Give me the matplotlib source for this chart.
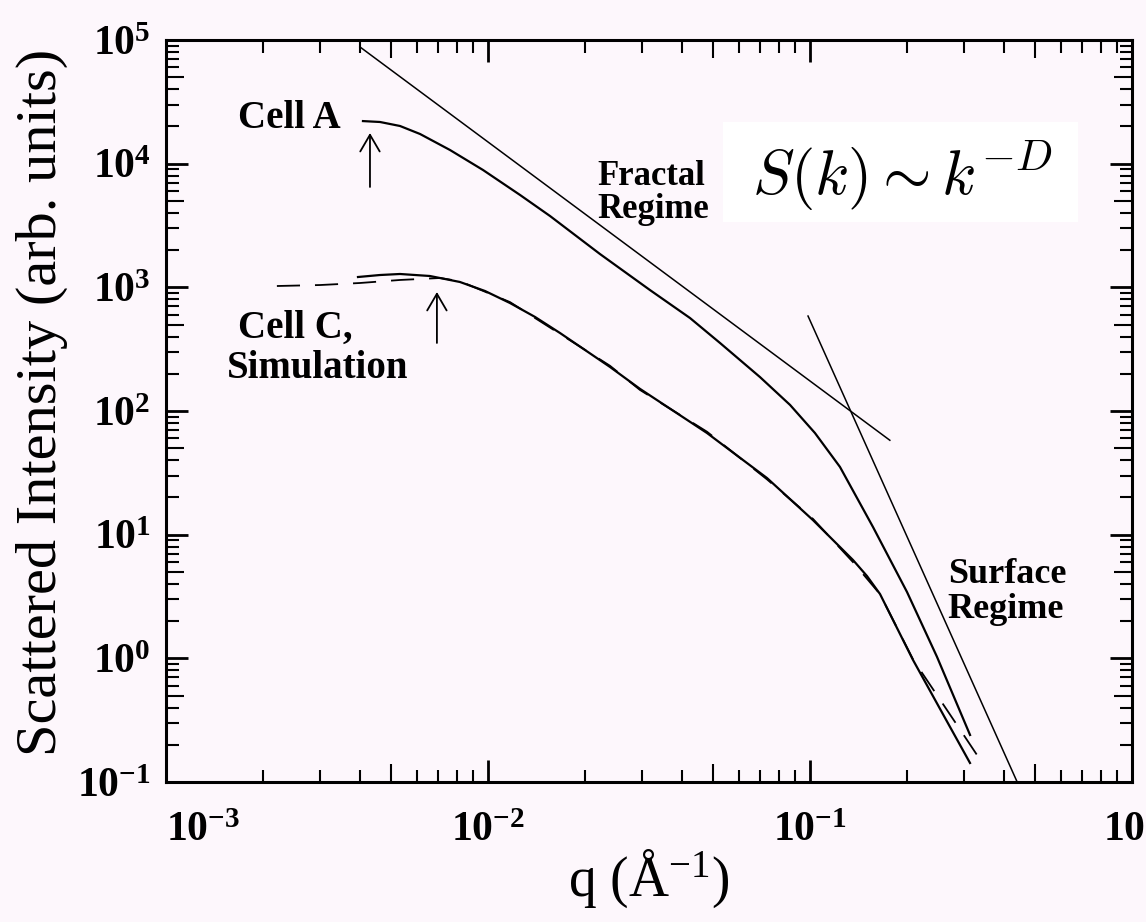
import numpy as np
import matplotlib

matplotlib.use("Agg")
import matplotlib.pyplot as plt
from matplotlib.patches import Rectangle
from matplotlib.ticker import LogLocator, FuncFormatter, NullFormatter, NullLocator

plt.rcParams["font.family"] = ["Liberation Serif", "DejaVu Serif"]
plt.rcParams["mathtext.fontset"] = "custom"
plt.rcParams["mathtext.rm"] = "Liberation Serif"
plt.rcParams["mathtext.it"] = "Liberation Serif:italic"
plt.rcParams["mathtext.bf"] = "Liberation Serif:bold"

BG = "#fdf7fc"

# Cell A measured intensity
q_cell_a = [0.00409, 0.004619, 0.00533, 0.00615, 0.00762, 0.00965, 0.01258, 0.01558,
            0.02227, 0.03184, 0.04239, 0.05254, 0.06995, 0.0867, 0.1036, 0.1239,
            0.157, 0.2001, 0.2479, 0.3141]
i_cell_a = [22100, 21730, 20170, 17380, 12900, 8889, 5580, 3775,
            1860, 951, 565, 355, 188, 112, 66.4, 35.3,
            11.5, 3.44, 1.03, 0.24]

# Cell C measured intensity
q_cell_c = [0.003947, 0.004619, 0.00533, 0.0066, 0.00818, 0.00979, 0.0117, 0.014,
            0.01674, 0.02393, 0.02965, 0.04787, 0.07354, 0.1022, 0.136, 0.1503,
            0.165, 0.2089, 0.2626, 0.314]
i_cell_c = [1212, 1258, 1282, 1235, 1105, 934, 747, 576,
            427, 227, 151, 66.4, 28.7, 13.1, 6.24, 4.63,
            3.31, 0.97, 0.33, 0.1425]

# simulation (dashed)
q_sim = [0.00221, 0.00301, 0.0040, 0.00533, 0.0071, 0.00818, 0.0117, 0.01674, 0.02393,
         0.02965, 0.04787, 0.07354, 0.1022, 0.136, 0.165, 0.2089, 0.282, 0.3445]
i_sim = [1025, 1044, 1084, 1147, 1190, 1120, 760, 420, 232,
         148, 68, 28, 13.4, 6.0, 3.3, 0.98, 0.306, 0.14]

# power-law guide lines
q_fractal = [0.0040, 0.177]
i_fractal = [88000, 58]
q_surface = [0.0986, 0.44]
i_surface = [586, 0.1]

# arrows marking the crossover (q, head, tail)
arrow_cell_a = (0.0043, 17700, 6480)
arrow_cell_c = (0.00694, 917, 355)

decades = list(range(-1, 5))
mid_ticks_y = [5 * 10.0 ** k for k in decades]
mid_ticks_x = [5e-3, 5e-2, 5e-1]

fig = plt.figure(figsize=(11.46, 9.22), dpi=100, facecolor=BG)
ax = fig.add_axes([0.14485, 0.15184, 0.84293, 0.80477])
ax.set_facecolor(BG)
ax.set_xscale("log")
ax.set_yscale("log")
ax.set_xlim(1e-3, 1)
ax.set_ylim(1e-1, 1e5)

ax.plot(q_fractal, i_fractal, color="black", lw=1.1)
ax.plot(q_surface, i_surface, color="black", lw=1.1)
ax.plot(q_cell_a, i_cell_a, color="black", lw=1.6)
ax.plot(q_cell_c, i_cell_c, color="black", lw=1.6)
ax.plot(q_sim, i_sim, color="black", lw=1.3, linestyle=(0, (12.8, 8.3)))

for q, head, tail in (arrow_cell_a, arrow_cell_c):
    ax.annotate("", xy=(q, head), xytext=(q, tail),
                arrowprops=dict(arrowstyle="->,head_length=0.6,head_width=0.35",
                                lw=1.3, color="black", shrinkA=0, shrinkB=0,
                                mutation_scale=20))

lab = dict(fontweight="bold", ha="left", va="baseline")
ax.text(0.001674, 19430, "Cell A", fontsize=28, **lab)
ax.text(0.001674, 389, "Cell C,", fontsize=28, **lab)
ax.text(0.001546, 185, "Simulation", fontsize=28, **lab)
ax.text(0.0218, 6720, "Fractal", fontsize=25, **lab)
ax.text(0.0218, 3637, "Regime", fontsize=25, **lab)
ax.text(0.2680, 4.07, "Surface", fontsize=26, **lab)
ax.text(0.2680, 2.10, "Regime", fontsize=26, **lab)

ax.add_patch(Rectangle((0.5766, 0.7547), 0.3675, 0.1348, transform=ax.transAxes,
                       facecolor="white", edgecolor="none", zorder=1))
ax.text(0.6066, 0.791, r"$S(k)\sim k^{-D}$", transform=ax.transAxes, fontsize=45,
        math_fontfamily="cm", ha="left", va="baseline", zorder=2)

# 5x10^n ticks are a bit longer than the other minor ticks
ax5x = ax.twiny()
ax5y = ax.twinx()
for tw in (ax5x, ax5y):
    tw.set_xscale("log")
    tw.set_yscale("log")
    tw.set_xlim(ax.get_xlim())
    tw.set_ylim(ax.get_ylim())
    for s in tw.spines.values():
        s.set_visible(False)
ax5x.set_xticks(mid_ticks_x)
ax5x.xaxis.set_major_formatter(NullFormatter())
ax5x.xaxis.set_minor_locator(NullLocator())
ax5x.tick_params(axis="x", which="major", top=True, bottom=True, direction="in",
                 length=13, width=1.5, labeltop=False, labelbottom=False)
ax5y.set_yticks(mid_ticks_y)
ax5y.yaxis.set_major_formatter(NullFormatter())
ax5y.yaxis.set_minor_locator(NullLocator())
ax5y.tick_params(axis="y", which="major", left=True, right=True, direction="in",
                 length=13, width=1.5, labelleft=False, labelright=False)

fmt = FuncFormatter(lambda v, pos: r"$\mathbf{10^{%d}}$" % round(np.log10(v)))
for axis in (ax.xaxis, ax.yaxis):
    axis.set_major_locator(LogLocator(base=10, numticks=10))
    axis.set_minor_locator(LogLocator(base=10, subs=[2, 3, 4, 6, 7, 8, 9], numticks=20))
    axis.set_minor_formatter(NullFormatter())
    axis.set_major_formatter(fmt)

ax.tick_params(which="both", direction="in", top=True, right=True, left=True, bottom=True)
ax.tick_params(which="major", length=16, width=2, labelsize=30)
ax.tick_params(which="minor", length=9, width=1.5)
ax.tick_params(axis="x", which="major", pad=21)
ax.tick_params(axis="y", which="major", pad=11)
for s in ax.spines.values():
    s.set_linewidth(2.2)

ax.set_ylabel("Scattered Intensity (arb. units)", fontsize=42)
ax.yaxis.set_label_coords(-0.1015, 0.512)
ax.set_xlabel(r"q (Å$^{\mathrm{-1}}$)", fontsize=40)
ax.xaxis.set_label_coords(0.5, -0.088)

# the first x label sits to the right of its tick
fig.canvas.draw()
for lbl in ax.get_xticklabels():
    if np.isclose(lbl.get_position()[0], 1e-3):
        lbl.set_horizontalalignment("left")

fig.savefig("out.png", dpi=100, facecolor=BG)
